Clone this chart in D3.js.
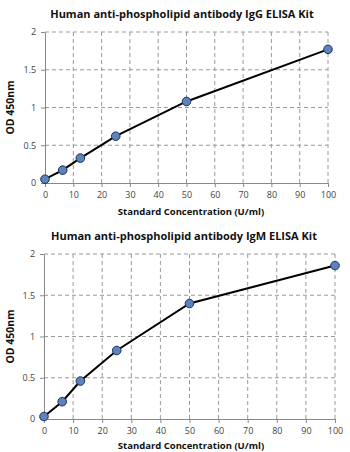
<!DOCTYPE html>
<html>
<head>
<meta charset="utf-8">
<script src="https://cdn.jsdelivr.net/npm/d3@7"></script>
<style>
  body { margin: 0; background: #fff; }
  svg text { font-family: "Open Sans", Lato, sans-serif; }
  .title { font-weight: bold; font-size: 11px; fill: #111; }
  .axis-title { font-weight: bold; font-size: 9.5px; fill: #111; }
  .ylabel { font-weight: bold; font-size: 10.5px; fill: #111; }
  .tick text { font-size: 9px; fill: #444; }
  .grid line { stroke: #9a9a9a; stroke-dasharray: 4,3; stroke-width: 1; }
</style>
</head>
<body>
<svg id="chart" width="350" height="452"></svg>
<script>
// standard concentrations (U/ml)
var concentrations = [0, 6.25, 12.5, 25, 50, 100];
var iggOD = [0.05, 0.17, 0.33, 0.62, 1.08, 1.77];
var igmOD = [0.03, 0.21, 0.46, 0.83, 1.40, 1.86];
var xTicks = [0, 10, 20, 30, 40, 50, 60, 70, 80, 90, 100];
var yTicks = [0, 0.5, 1, 1.5, 2];

var svg = d3.select("#chart");

var drawCurve = function(title, values, box) {
  var data = concentrations.map(function(c, i) { return {x: c, y: values[i]}; });

  var xScale = d3.scaleLinear().domain([0, 100]).range([box.left, box.right]);
  var yScale = d3.scaleLinear().domain([0, 2]).range([box.bottom, box.top]);

  var g = svg.append("g");

  g.append("text")
    .attr("class", "title")
    .attr("x", box.titleX)
    .attr("y", box.titleY)
    .attr("text-anchor", "middle")
    .text(title);

  // dashed grid
  var grid = g.append("g").attr("class", "grid");
  grid.selectAll(".gx")
    .data(xTicks.slice(1))
    .enter().append("line")
    .attr("x1", function(d) { return xScale(d); })
    .attr("x2", function(d) { return xScale(d); })
    .attr("y1", box.top)
    .attr("y2", box.bottom);
  grid.selectAll(".gy")
    .data(yTicks.slice(1))
    .enter().append("line")
    .attr("x1", box.left)
    .attr("x2", box.right)
    .attr("y1", function(d) { return yScale(d); })
    .attr("y2", function(d) { return yScale(d); });

  var xAxis = d3.axisBottom(xScale).tickValues(xTicks).tickSize(4).tickSizeOuter(0);
  var yAxis = d3.axisLeft(yScale).tickValues(yTicks).tickSize(4).tickSizeOuter(0)
    .tickFormat(d3.format("~g"));

  var ax = g.append("g")
    .attr("class", "x axis")
    .attr("transform", "translate(0," + box.bottom + ")")
    .call(xAxis);
  var ay = g.append("g")
    .attr("class", "y axis")
    .attr("transform", "translate(" + box.left + ",0)")
    .call(yAxis);
  g.selectAll(".axis path, .axis line").attr("stroke", "#888");
  ax.selectAll("text").attr("dy", "0.9em");
  ay.selectAll("text").attr("dx", "-0.2em");

  g.append("text")
    .attr("class", "axis-title")
    .attr("x", box.xTitleX)
    .attr("y", box.xTitleY)
    .attr("text-anchor", "middle")
    .text("Standard Concentration (U/ml)");

  g.append("text")
    .attr("class", "ylabel")
    .attr("transform", "translate(14," + ((box.top + box.bottom) / 2) + ") rotate(-90)")
    .attr("text-anchor", "middle")
    .text("OD 450nm");

  var line = d3.line()
    .x(function(d) { return xScale(d.x); })
    .y(function(d) { return yScale(d.y); });

  g.append("path")
    .datum(data)
    .attr("fill", "none")
    .attr("stroke", "#000")
    .attr("stroke-width", 2)
    .attr("d", line);

  g.selectAll(".pt")
    .data(data)
    .enter().append("circle")
    .attr("cx", function(d) { return xScale(d.x); })
    .attr("cy", function(d) { return yScale(d.y); })
    .attr("r", 4.3)
    .attr("fill", "#5b84be")
    .attr("stroke", "#1f3050")
    .attr("stroke-width", 1);
};

drawCurve("Human anti-phospholipid antibody IgG ELISA Kit", iggOD,
  {left: 45, right: 328, top: 32, bottom: 183, titleX: 182, titleY: 18, xTitleX: 191, xTitleY: 215});
drawCurve("Human anti-phospholipid antibody IgM ELISA Kit", igmOD,
  {left: 44, right: 335, top: 254, bottom: 419, titleX: 184, titleY: 240, xTitleX: 191, xTitleY: 449});
</script>
</body>
</html>
